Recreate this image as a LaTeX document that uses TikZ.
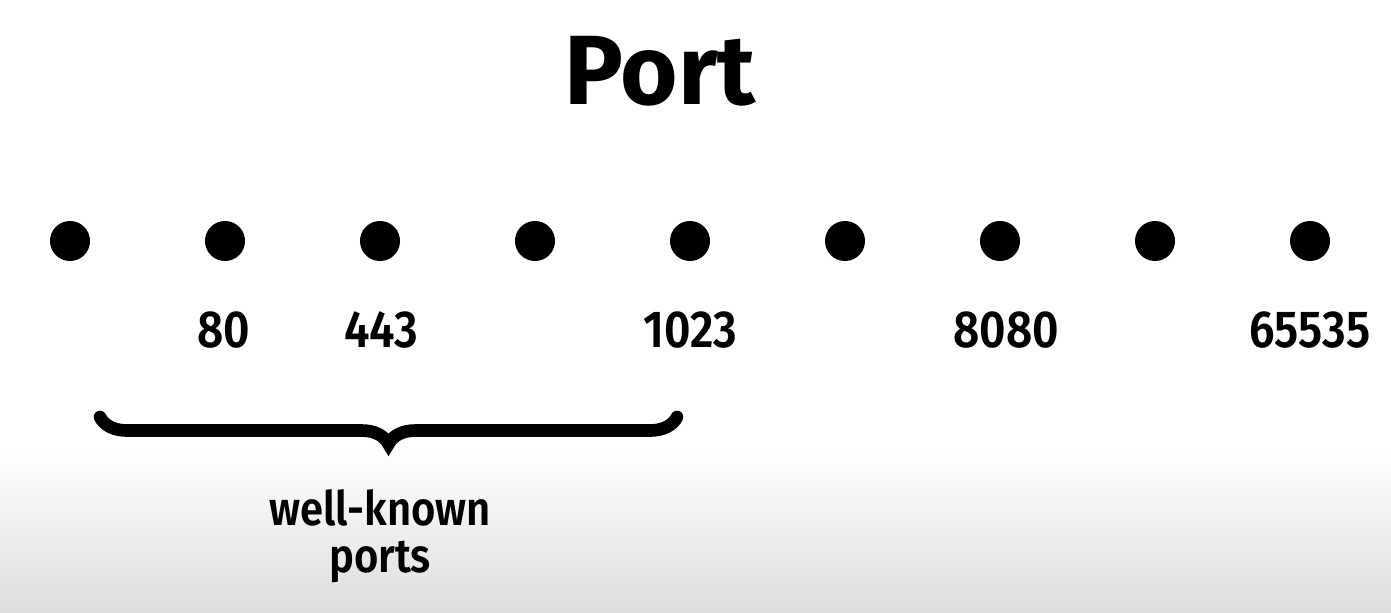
\documentclass[tikz,border=0pt]{standalone}
\usepackage{fontspec}
\setmainfont{Fira Sans}
\newfontfamily\portfont[FakeStretch=0.88]{Fira Sans SemiBold}
\usepackage{tikz}
\usetikzlibrary{positioning, decorations.pathreplacing}

\begin{document}
\begin{tikzpicture}[x=0.01cm, y=-0.01cm,
  portdot/.style={circle, fill=black, minimum size=0.4cm, inner sep=0pt},
  portnum/.style={font=\portfont\fontsize{14.8}{17}\selectfont},
  wkbrace/.style={decorate, decoration={brace, amplitude=0.27cm}, line width=3.6pt, line cap=round}]
  % Background with a soft grey fade at the bottom
  \useasboundingbox (0,0) rectangle (1391,612);
  \fill[white] (0,0) rectangle (1391,612);
  \shade[top color=white, bottom color=black!13] (0,450) rectangle (1391,612);
  % Title
  \node[font=\bfseries\fontsize{28}{32}\selectfont] (title) at (660,71) {Port};
  % Port range as dots
  \foreach \i in {1,...,9}
    \node[portdot] (p\i) at ({70+155*(\i-1)},241) {};
  % Port numbers
  \node[portnum] (n80) at (224,330) {80};
  \node[portnum] (n443) at (381,330) {443};
  \node[portnum] (n1023) at (690,330) {1023};
  \node[portnum] (n8080) at (1006,330) {8080};
  \node[portnum] (n65535) at (1310,330) {65535};
  % Brace over the well-known range
  \coordinate (wkR) at (677,417);
  \coordinate (wkL) at (100,417);
  \draw[wkbrace] (wkR) -- (wkL);
  \node[align=center, font=\portfont\fontsize{13.5}{13.5}\selectfont] (wk) at (380,536) {well-known\\ports};
\end{tikzpicture}
\end{document}
